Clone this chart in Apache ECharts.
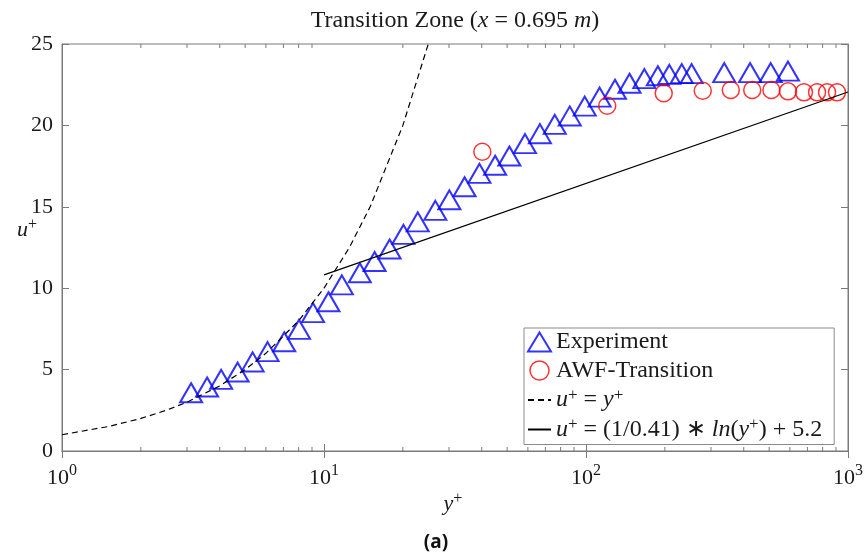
<!DOCTYPE html>
<html><head><meta charset="utf-8">
<script src="https://cdn.jsdelivr.net/npm/echarts@6/dist/echarts.min.js"></script>
<style>html,body{margin:0;padding:0;background:#fff}#c{width:866px;height:558px}</style>
</head><body><div id="c"></div>
<script>
// ---- data ----
var expY = [3.11,3.58,4.05,4.68,5.34,6.09,7.05,8.03,9.08,10.4,11.7,13.7,15.6,17.8,20.1,22.8,26.6,30.1,34.4,39.2,45.0,51.0,58.5,66.7,76.0,86.7,98.9,112.7,129,146.6,167,188,208,232,253,337,423,507,590];
var expU = [3.58,3.93,4.40,4.85,5.47,6.10,6.71,7.47,8.50,9.17,10.2,10.95,11.64,12.41,13.31,14.07,14.78,15.43,16.23,17.05,17.55,18.12,18.88,19.49,20.06,20.58,21.18,21.74,22.22,22.59,22.87,23.05,23.13,23.18,23.18,23.24,23.24,23.24,23.33];
var awfY = [40.2,120.5,198,279,357,431,510,590,679,762,832,908];
var awfU = [18.38,21.21,21.97,22.13,22.17,22.17,22.17,22.09,22.03,22.03,22.03,22.03];
var viscY = [1,1.5,2,2.5,3,4,5,6,8,10,12.5,15,20,25];
var viscU = [1,1.5,2,2.5,3,4,5,6,8,10,12.5,15,20,25];
var logY = [10,1000];
var logU = [10.82,22.05];
var xMinorTicks = [2,3,4,5,6,7,8,9,20,30,40,50,60,70,80,90,200,300,400,500,600,700,800,900];

function pairs(a,b){return a.map(function(v,i){return [v,b[i]];});}

var FONT = 'Liberation Serif';
var TXT = '#1a1a1a';
var AX = '#7a7a7a';
function mkRich(fs, lh, ss){
  return {
    n:{fontFamily:FONT,fontSize:fs,color:TXT,lineHeight:lh},
    i:{fontFamily:FONT,fontStyle:'italic',fontSize:fs,color:TXT,lineHeight:lh},
    s:{fontFamily:FONT,fontSize:ss,color:TXT,lineHeight:ss,verticalAlign:'top'}
  };
}

var chart = echarts.init(document.getElementById('c'),null,{renderer:'canvas'});
chart.setOption({
  animation:false,
  backgroundColor:'#fff',
  title:[
    {text:'Transition Zone ({i|x} = 0.695 {i|m})',left:455,textAlign:'center',top:9,padding:0,
     textStyle:{fontFamily:FONT,fontSize:24,fontWeight:'normal',color:TXT,rich:mkRich(24,24,16)}},
    {text:'{i|y}{s|+}',left:453,textAlign:'center',top:491,padding:0,
     textStyle:{fontFamily:FONT,fontSize:22,fontWeight:'normal',color:TXT,rich:mkRich(22,26,16)}},
    {text:'{i|u}{s|+}',left:17,top:217,padding:0,
     textStyle:{fontFamily:FONT,fontSize:22,fontWeight:'normal',color:TXT,rich:mkRich(22,26,16)}},
    {text:'(a)',left:436,textAlign:'center',top:531,padding:0,
     textStyle:{fontFamily:'Noto Sans',fontSize:19,fontWeight:'bold',color:'#111',lineHeight:24}}
  ],
  grid:{left:62,right:16,top:44,bottom:107,show:true,borderColor:AX,borderWidth:1,backgroundColor:'#fff'},
  legend:{
    orient:'vertical',left:524,top:328,
    padding:[2,12,3,3],itemGap:4.5,itemWidth:23,itemHeight:19,itemTextGap:3,
    borderColor:'#8a8a8a',borderWidth:1,backgroundColor:'#fff',
    textStyle:{fontFamily:FONT,fontSize:24,color:TXT,rich:mkRich(24,26,17)},
    data:[
      {name:'Experiment',icon:'triangle',itemStyle:{color:'rgba(0,0,0,0)',borderColor:'#0000ff',borderWidth:2}},
      {name:'AWF-Transition',icon:'circle',itemStyle:{color:'rgba(0,0,0,0)',borderColor:'#ff0000',borderWidth:1.5}},
      {name:'visc',itemStyle:{opacity:0}},
      {name:'loglaw',itemStyle:{opacity:0}}
    ],
    formatter:function(n){
      if(n==='visc') return '{i|u}{s|+}{n| = }{i|y}{s|+}';
      if(n==='loglaw') return '{i|u}{s|+}{n| = (1/0.41) ∗ }{i|ln}{n|(}{i|y}{s|+}{n|) + 5.2}';
      return '{n|'+n+'}';
    }
  },
  xAxis:[
    {type:'log',logBase:10,min:1,max:1000,position:'bottom',
     axisLine:{show:true,lineStyle:{color:AX}},
     axisTick:{show:true,inside:true,length:7,lineStyle:{color:AX}},
     splitLine:{show:false},
     axisLabel:{margin:12,formatter:function(v){var e=Math.round(Math.log10(v));return '{n|10}{s|'+e+'}';},rich:mkRich(22,30,16)}},
    {type:'log',logBase:10,min:1,max:1000,position:'top',
     axisLine:{show:true,lineStyle:{color:AX}},
     axisTick:{show:true,inside:true,length:7,lineStyle:{color:AX}},
     splitLine:{show:false},axisLabel:{show:false}}
  ],
  yAxis:[
    {type:'value',min:0,max:25,interval:5,position:'left',
     axisLine:{show:true,lineStyle:{color:AX}},
     axisTick:{show:true,inside:true,length:7,lineStyle:{color:AX}},
     splitLine:{show:false},
     axisLabel:{margin:9,fontFamily:FONT,fontSize:22,color:TXT}},
    {type:'value',min:0,max:25,interval:5,position:'right',
     axisLine:{show:true,lineStyle:{color:AX}},
     axisTick:{show:true,inside:true,length:7,lineStyle:{color:AX}},
     splitLine:{show:false},axisLabel:{show:false}}
  ],
  series:[
    {name:'minor',type:'custom',silent:true,z:1,clip:false,
     data:xMinorTicks.map(function(v){return [v,0];}),
     renderItem:function(params,api){
       var v=api.value(0);
       var b=api.coord([v,0]), t=api.coord([v,25]);
       return {type:'group',children:[
         {type:'line',shape:{x1:b[0],y1:b[1],x2:b[0],y2:b[1]-4},style:{stroke:AX,lineWidth:1}},
         {type:'line',shape:{x1:t[0],y1:t[1],x2:t[0],y2:t[1]+4},style:{stroke:AX,lineWidth:1}}
       ]};
     }},
    {name:'Experiment',type:'scatter',data:pairs(expY,expU),symbol:'triangle',symbolSize:[22,19],z:2,
     itemStyle:{color:'rgba(0,0,0,0)',borderColor:'#0000ff',borderWidth:2}},
    {name:'AWF-Transition',type:'scatter',data:pairs(awfY,awfU),symbol:'circle',symbolSize:17,z:3,
     itemStyle:{color:'rgba(0,0,0,0)',borderColor:'#ff0000',borderWidth:1.5}},
    {name:'visc',type:'line',data:pairs(viscY,viscU),symbol:'none',z:4,
     lineStyle:{color:'#000',width:1.2,type:[6,4]},itemStyle:{color:'#000'}},
    {name:'loglaw',type:'line',data:pairs(logY,logU),symbol:'none',z:4,
     lineStyle:{color:'#000',width:1.2},itemStyle:{color:'#000'}}
  ]
});
</script></body></html>
